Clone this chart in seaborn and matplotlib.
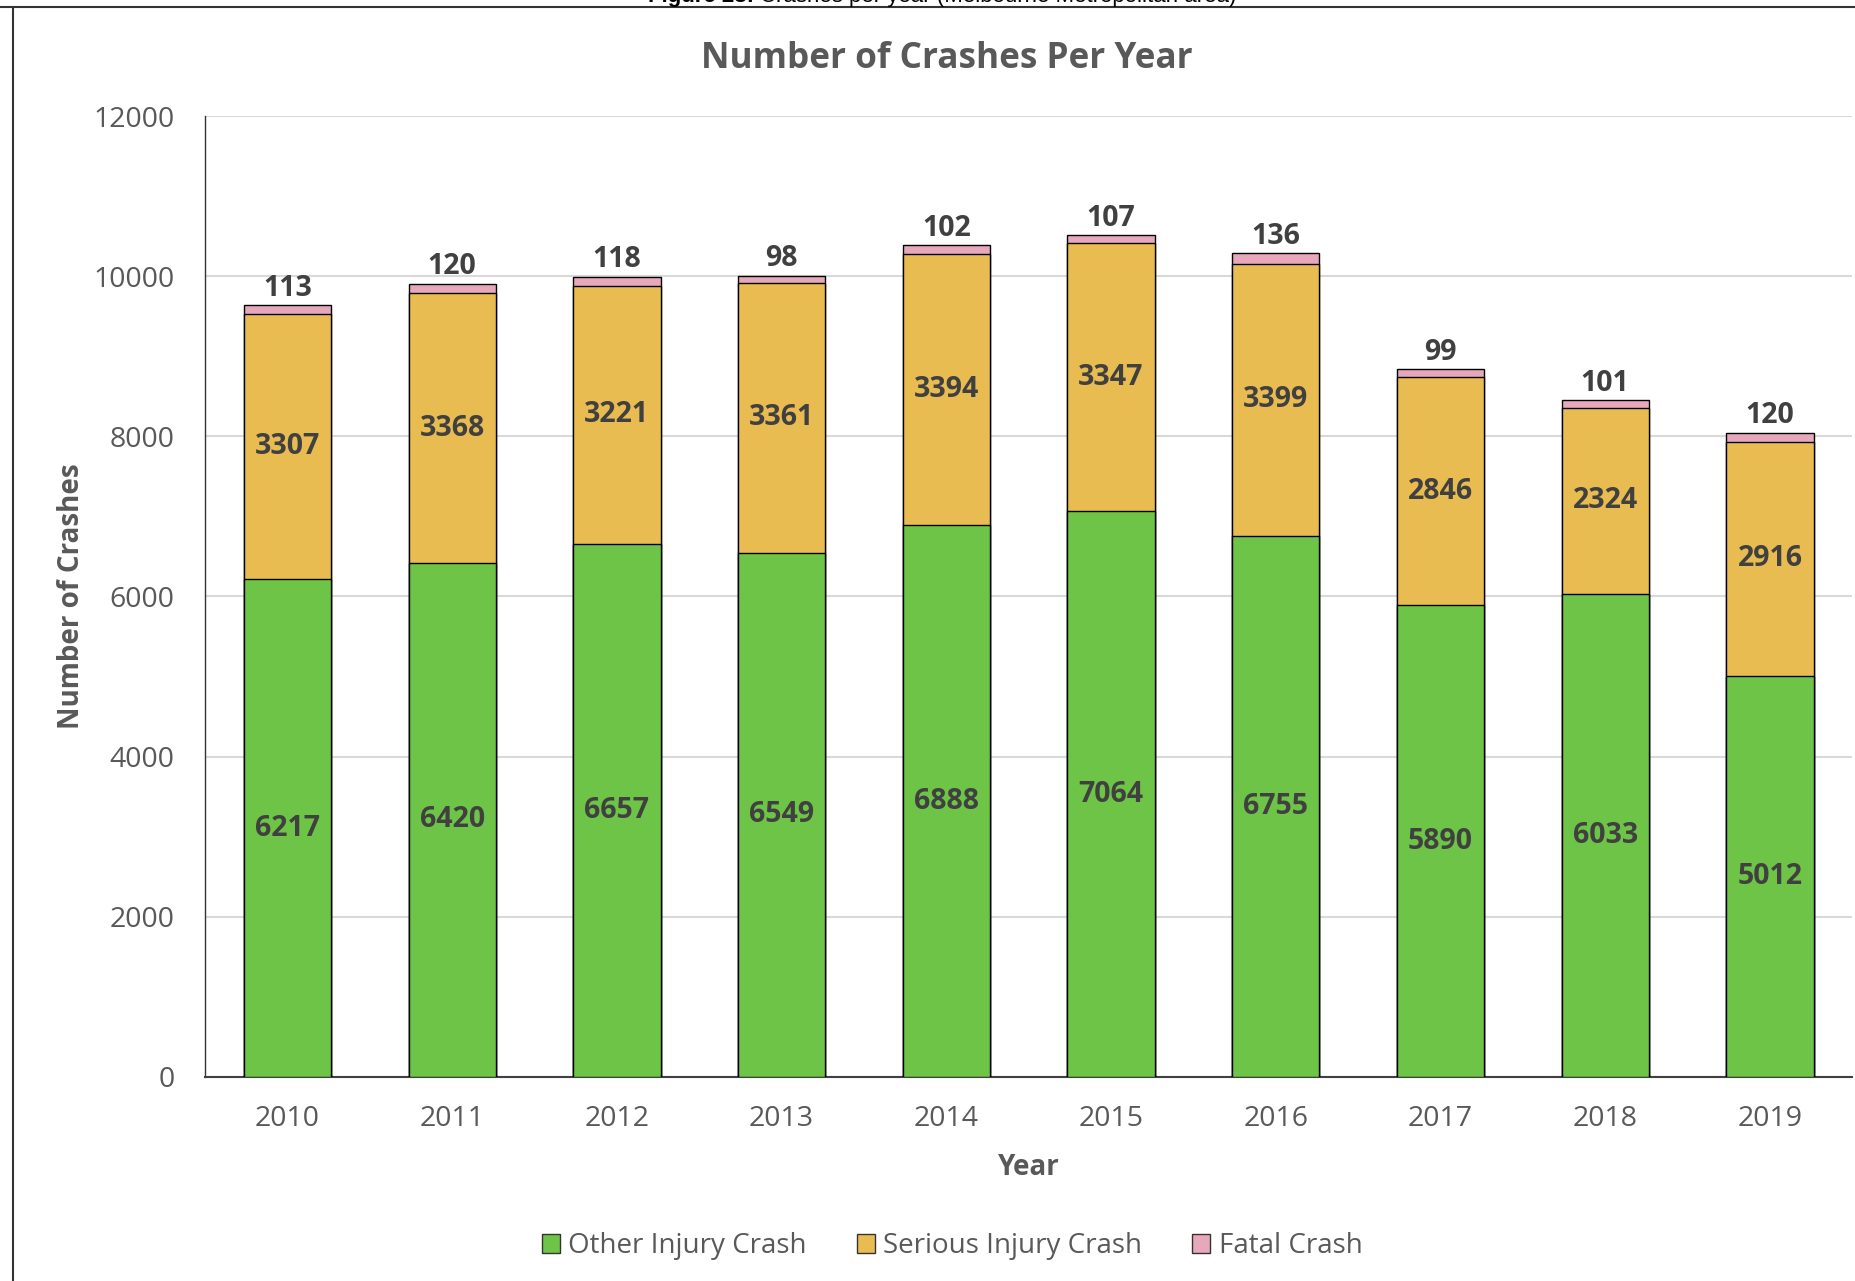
import matplotlib
matplotlib.use("Agg")
import matplotlib.pyplot as plt
from matplotlib.patches import Patch
from matplotlib.lines import Line2D
import pandas as pd
import seaborn as sns

# Crash counts per year by severity (Melbourne Metropolitan area)
years = ["2010", "2011", "2012", "2013", "2014", "2015", "2016", "2017", "2018", "2019"]
other_injury = [6217, 6420, 6657, 6549, 6888, 7064, 6755, 5890, 6033, 5012]
serious_injury = [3307, 3368, 3221, 3361, 3394, 3347, 3399, 2846, 2324, 2916]
fatal = [113, 120, 118, 98, 102, 107, 136, 99, 101, 120]

series_names = ["Other Injury Crash", "Serious Injury Crash", "Fatal Crash"]
series_colors = ["#6EC446", "#E8BC50", "#E8A8BC"]
y_ticks = [0, 2000, 4000, 6000, 8000, 10000, 12000]

sns.set_style("white")
plt.rcParams["font.family"] = ["Open Sans", "DejaVu Sans"]

TEXT_GREY = "#595959"
LABEL_DARK = "#404040"

df = pd.DataFrame({"Year": years, "other": other_injury,
                   "serious": serious_injury, "fatal": fatal})
df["level1"] = df["other"]
df["level2"] = df["other"] + df["serious"]
df["level3"] = df["level2"] + df["fatal"]

fig = plt.figure(figsize=(18.56, 12.81), dpi=100)
ax = fig.add_axes([0.1105, 0.1593, 0.8875, 0.7501])

# Stacked bars: draw cumulative totals from the top down
for col, color in zip(["level3", "level2", "level1"], series_colors[::-1]):
    sns.barplot(data=df, x="Year", y=col, color=color, width=0.53,
                edgecolor="black", linewidth=1.0, saturation=1,
                errorbar=None, ax=ax, zorder=3)

# Segment value labels
lab_kw = dict(ha="center", va="center", fontsize=20.5, fontweight="bold",
              color=LABEL_DARK, zorder=5)
for i, row in df.iterrows():
    ax.text(i, row["other"] / 2, f"{row['other']}", **lab_kw)
    ax.text(i, row["other"] + row["serious"] / 2, f"{row['serious']}", **lab_kw)
    ax.annotate(f"{row['fatal']}", xy=(i, row["level3"]), xytext=(0, 1.5),
                textcoords="offset points", ha="center", va="bottom",
                fontsize=20.5, fontweight="bold", color=LABEL_DARK, zorder=5)

ax.set_xlim(-0.5, len(years) - 0.5)
ax.set_ylim(0, 12000)
ax.set_yticks(y_ticks)
ax.yaxis.grid(True, color="#D9D9D9", linewidth=1.5)
ax.xaxis.grid(False)
ax.set_axisbelow(True)

for side in ["top", "right"]:
    ax.spines[side].set_visible(False)
ax.spines["left"].set_color("#333333")
ax.spines["left"].set_linewidth(1.0)
ax.spines["bottom"].set_color("#404040")
ax.spines["bottom"].set_linewidth(1.5)

ax.tick_params(axis="y", length=0, pad=22, labelsize=20.5, labelcolor=TEXT_GREY)
ax.tick_params(axis="x", length=0, pad=20.5, labelsize=20.5, labelcolor=TEXT_GREY)

ax.set_xlabel("Year", fontsize=20, fontweight="bold", color=TEXT_GREY)
ax.set_ylabel("Number of Crashes", fontsize=20, fontweight="bold", color=TEXT_GREY)
ax.xaxis.set_label_coords(0.5, -0.079)
ax.yaxis.set_label_coords(-0.072, 0.5)

fig.text(0.51, 0.954, "Number of Crashes Per Year", ha="center", va="center",
         fontsize=25.3, fontweight="bold", color=TEXT_GREY)

handles = [Patch(facecolor=c, edgecolor="#333333", linewidth=1.0) for c in series_colors]
fig.legend(handles, series_names, loc="center", bbox_to_anchor=(0.513, 0.027),
           ncol=3, frameon=False, fontsize=20, labelcolor=TEXT_GREY,
           handlelength=0.65, handleheight=0.65, handletextpad=0.3,
           columnspacing=1.8)

# Page frame and figure caption above the chart
top_y = 1 - 7 / 1281
fig.add_artist(Line2D([0, 1], [top_y, top_y], transform=fig.transFigure,
                      color="#333333", linewidth=1.5))
fig.add_artist(Line2D([13 / 1856, 13 / 1856], [0, top_y], transform=fig.transFigure,
                      color="#333333", linewidth=1.5))
cap_y = 1 - 2 / 1281
fig.text(754 / 1856, cap_y, "Figure 28:", ha="right", va="baseline",
         fontsize=16, fontweight="bold", family=["Liberation Sans"], color="black")
fig.text(760 / 1856, cap_y, "Crashes per year (Melbourne Metropolitan area)",
         ha="left", va="baseline", fontsize=16, family=["Liberation Sans"], color="black")

fig.savefig("out.png", dpi=100)
